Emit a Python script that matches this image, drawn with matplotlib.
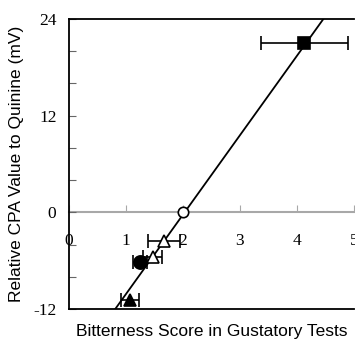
import matplotlib
matplotlib.use("Agg")
import matplotlib.pyplot as plt
import numpy as np

# data
score = [4.13, 2.0, 1.66, 1.47, 1.25, 1.07]
score_err = [0.77, 0.0, 0.28, 0.17, 0.12, 0.15]
cpa = [21.0, 0.0, -3.5, -5.5, -6.2, -10.9]
markers = ["s", "o", "^", "^", "o", "^"]
filled = [True, False, False, False, True, True]

# regression line
slope = 9.86
intercept = -20.0

fig = plt.figure(figsize=(3.55, 3.39), dpi=100)
ax = fig.add_axes([69 / 355, 1 - 309 / 339, 285 / 355, 290 / 339])

xl = np.array([0.0, 5.0])
ax.plot(xl, slope * xl + intercept, color="black", lw=1.3, zorder=2)

for x, xe, y, m, f in zip(score, score_err, cpa, markers, filled):
    ms = 9 if m != "o" else (9.5 if f else 7.5)
    ax.errorbar(x, y, xerr=xe if xe > 0 else None, fmt=m, ms=ms,
                mfc="black" if f else "white", mec="black", mew=1.2,
                ecolor="black", elinewidth=1.2, capsize=5, capthick=1.2,
                color="black", zorder=3)

ax.set_xlim(0, 5)
ax.set_ylim(-12, 24)

for s in ["left", "top", "bottom"]:
    ax.spines[s].set_linewidth(1.3)
    ax.spines[s].set_color("black")
ax.spines["right"].set_visible(False)

ax.set_xticks([])
ax.set_yticks(np.arange(-12, 25, 4))
ax.set_yticklabels(["-12", "", "", "0", "", "", "12", "", "", "24"])
ax.tick_params(axis="y", direction="in", length=5, width=0.8, pad=9,
               color="#666666")
for lab in ax.get_yticklabels():
    lab.set_family("Liberation Serif")
    lab.set_fontsize(12.5)

# gray zero axis with its own ticks
sec = ax.secondary_xaxis(12 / 36)
sec.spines["bottom"].set_color("#a8a8a8")
sec.spines["bottom"].set_linewidth(1.5)
sec.set_xticks([0, 1, 2, 3, 4, 5])
sec.tick_params(direction="in", length=5, width=0.8, color="#a8a8a8", pad=15)
for lab in sec.get_xticklabels():
    lab.set_family("Liberation Serif")
    lab.set_fontsize(12.5)

ax.set_xlabel("Bitterness Score in Gustatory Tests", family="Liberation Sans",
              fontsize=12.5, labelpad=11)
ax.set_ylabel("Relative CPA Value to Quinine (mV)", family="Liberation Sans",
              fontsize=12.5, labelpad=7)

fig.savefig("out.png", dpi=100)
